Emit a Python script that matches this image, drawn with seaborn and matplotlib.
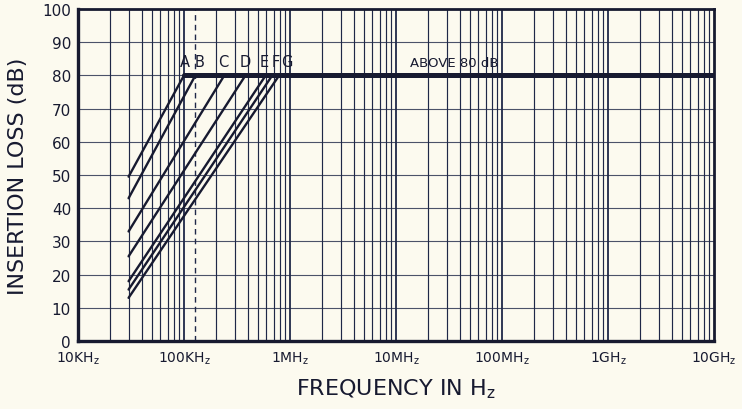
import numpy as np
import pandas as pd
import matplotlib
matplotlib.use("Agg")
import matplotlib.pyplot as plt
import seaborn as sns

# ---- data ----
curve_names = ["A", "B", "C", "D", "E", "F", "G"]
start_freq = [3.0e4] * 7                                   # Hz
start_db = [49.5, 43.0, 33.0, 25.5, 18.0, 15.5, 13.0]      # dB at start
end_freq = [1.0e5, 1.28e5, 2.4e5, 3.8e5, 5.9e5, 6.8e5, 7.9e5]  # Hz where 80 dB reached
end_db = [80] * 7
label_freq = [1.03e5, 1.40e5, 2.35e5, 3.75e5, 5.75e5, 7.3e5, 9.3e5]
plateau_freq = [1.0e5, 1.0e10]
plateau_db = [80, 80]
plateau_label = "ABOVE 80 dB"
dashed_freq = 1.28e5
xtick_vals = [1e4, 1e5, 1e6, 1e7, 1e8, 1e9, 1e10]
xtick_labels = [r"10KH$_\mathregular{z}$", r"100KH$_\mathregular{z}$", r"1MH$_\mathregular{z}$",
                r"10MH$_\mathregular{z}$", r"100MH$_\mathregular{z}$", r"1GH$_\mathregular{z}$",
                r"10GH$_\mathregular{z}$"]
ytick_vals = list(range(0, 101, 10))
xlabel = r"FREQUENCY IN H$_\mathregular{z}$"
ylabel = "INSERTION LOSS (dB)"

# ---- build long table ----
rows = []
for n, f0, d0, f1, d1 in zip(curve_names, start_freq, start_db, end_freq, end_db):
    rows.append({"curve": n, "freq": f0, "db": d0})
    rows.append({"curve": n, "freq": f1, "db": d1})
df = pd.DataFrame(rows)
plateau = pd.DataFrame({"freq": plateau_freq, "db": plateau_db})

ink = "#171a30"
grid_ink = "#1f2848"
paper = "#fcfaef"

sns.set_theme(style="white")
plt.rcParams["font.family"] = ["DejaVu Sans"]

fig = plt.figure(figsize=(7.42, 4.10), dpi=100, facecolor=paper)
ax = fig.add_axes([78 / 742, 1 - 342 / 410, (714 - 78) / 742, (342 - 10) / 410])
ax.set_facecolor(paper)
ax.set_xscale("log")
ax.set_xlim(1e4, 1e10)
ax.set_ylim(0, 100)

# grid
for dec in range(4, 10):
    for m in range(1, 10):
        v = m * 10 ** dec
        if v <= 1e4:
            continue
        lw = 1.3 if m == 1 else 0.85
        ax.axvline(v, color=grid_ink, lw=lw, zorder=1)
for y in ytick_vals[1:-1]:
    ax.axhline(y, color=grid_ink, lw=0.8, alpha=0.8, zorder=1)

ax.axvline(dashed_freq, color=grid_ink, lw=1.0, ls=(0, (4, 3)), zorder=1)

sns.lineplot(data=df, x="freq", y="db", hue="curve",
             palette=[ink] * len(curve_names), legend=False, lw=1.7, ax=ax, zorder=3)
sns.lineplot(data=plateau, x="freq", y="db", color=ink, lw=3.6, ax=ax, zorder=4)

# letter labels
for n, f in zip(curve_names, label_freq):
    ax.text(f, 81.8, n, ha="center", va="bottom", fontsize=10.5, color=ink, zorder=5)
ax.text(1.0e7 * 10 ** 0.55, 81.8, plateau_label, ha="center", va="bottom", fontsize=9.5,
        color=ink, zorder=5)

ax.set_xticks(xtick_vals)
ax.set_xticklabels(xtick_labels, fontsize=10, color=ink)
ax.set_yticks(ytick_vals)
ax.set_yticklabels([str(v) for v in ytick_vals], fontsize=11, color=ink)
ax.minorticks_off()
ax.tick_params(axis="both", length=0, pad=5)
ax.tick_params(axis="x", pad=6)

ax.set_xlabel(xlabel, fontsize=16, color=ink, labelpad=8)
ax.set_ylabel(ylabel, fontsize=16, color=ink, labelpad=10)

for side, w in [("left", 2.4), ("bottom", 2.4), ("top", 2.0), ("right", 2.0)]:
    ax.spines[side].set_visible(True)
    ax.spines[side].set_color(ink)
    ax.spines[side].set_linewidth(w)

fig.savefig("out.png", dpi=100, facecolor=paper)
